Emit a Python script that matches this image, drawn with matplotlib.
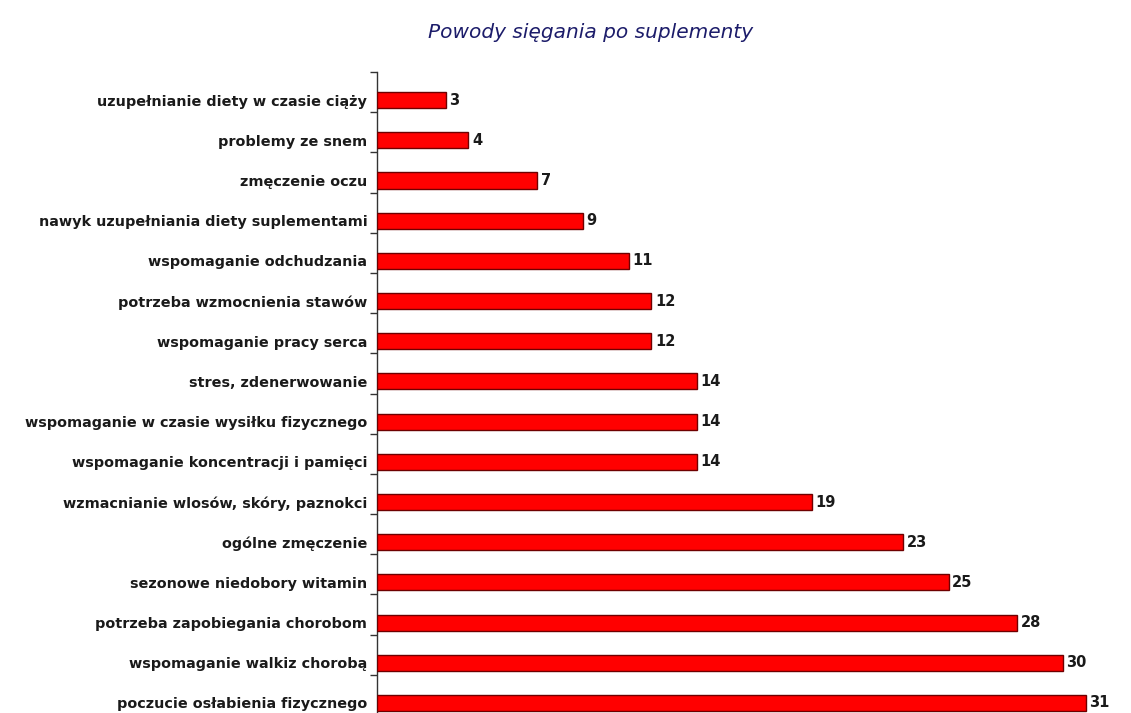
import matplotlib
matplotlib.use("Agg")
import matplotlib.pyplot as plt
import numpy as np

categories = [
    "uzupełnianie diety w czasie ciąży",
    "problemy ze snem",
    "zmęczenie oczu",
    "nawyk uzupełniania diety suplementami",
    "wspomaganie odchudzania",
    "potrzeba wzmocnienia stawów",
    "wspomaganie pracy serca",
    "stres, zdenerwowanie",
    "wspomaganie w czasie wysiłku fizycznego",
    "wspomaganie koncentracji i pamięci",
    "wzmacnianie wlosów, skóry, paznokci",
    "ogólne zmęczenie",
    "sezonowe niedobory witamin",
    "potrzeba zapobiegania chorobom",
    "wspomaganie walkiz chorobą",
    "poczucie osłabienia fizycznego",
]
values = [3, 4, 7, 9, 11, 12, 12, 14, 14, 14, 19, 23, 25, 28, 30, 31]
title = "Powody sięgania po suplementy"

W, H = 1131, 713
fig = plt.figure(figsize=(W / 100, H / 100), dpi=100)
fig.patch.set_facecolor("white")

x0 = 377
xmax = 32.5
pxu = (1086 - 377) / 31
ax = fig.add_axes([x0 / W, 0, xmax * pxu / W, (713 - 72) / H])

y = np.arange(len(categories))
ax.barh(y, values, height=0.4, color="#FF0000", edgecolor="#6E0000", linewidth=1.0, zorder=3)

for yi, v in zip(y, values):
    ax.text(v + 0.15, yi, str(v), va="center", ha="left", fontsize=10.5,
            fontweight="bold", color="#1a1a1a", family="DejaVu Sans")

ax.set_xlim(0, xmax)
ax.set_ylim(15.25, -0.7)

ax.set_yticks(y)
ax.set_yticklabels(categories, fontsize=10.4, fontweight="bold", color="#1a1a1a", family="DejaVu Sans")
ax.tick_params(axis="y", which="major", length=0, pad=7)
ax.set_yticks(y - 0.7, minor=True)
ax.tick_params(axis="y", which="minor", length=5, width=1, color="#333333", direction="out")

ax.set_xticks([])
for s in ["top", "right", "bottom"]:
    ax.spines[s].set_visible(False)
ax.spines["left"].set_color("#333333")
ax.spines["left"].set_linewidth(1)

fig.text(591 / W, 1 - 32 / H, title, ha="center", va="center", fontsize=14.5,
         style="italic", color="#1C1C6A", family="DejaVu Sans")

fig.savefig("out.png", dpi=100)
